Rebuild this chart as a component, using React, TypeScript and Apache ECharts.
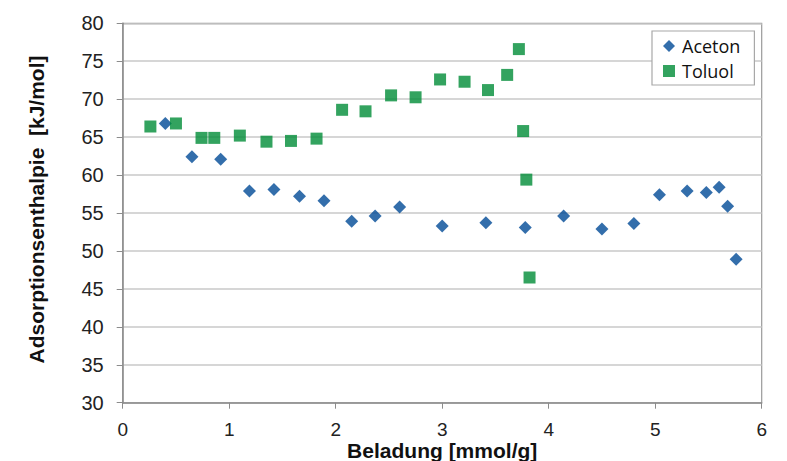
import React, { useEffect, useRef } from "react";
import * as echarts from "echarts";

const acetonX = [0.40, 0.65, 0.92, 1.19, 1.42, 1.66, 1.89, 2.15, 2.37, 2.60, 3.00, 3.41, 3.78, 4.14, 4.50, 4.80, 5.04, 5.30, 5.48, 5.60, 5.68, 5.76];
const acetonY = [66.8, 62.4, 62.1, 57.9, 58.1, 57.2, 56.6, 53.9, 54.6, 55.8, 53.3, 53.7, 53.1, 54.6, 52.9, 53.6, 57.4, 57.9, 57.7, 58.4, 55.9, 48.9];
const toluolX = [0.26, 0.50, 0.74, 0.86, 1.10, 1.35, 1.58, 1.82, 2.06, 2.28, 2.52, 2.75, 2.98, 3.21, 3.43, 3.61, 3.72, 3.76, 3.79, 3.82];
const toluolY = [66.4, 66.8, 64.9, 64.9, 65.2, 64.4, 64.5, 64.8, 68.6, 68.4, 70.5, 70.25, 72.6, 72.3, 71.2, 73.2, 76.6, 65.8, 59.4, 46.5];

const xTitle = "Beladung [mmol/g]";
const yTitle = "Adsorptionsenthalpie  [kJ/mol]";

export default function App() {
  const ref = useRef<HTMLDivElement>(null);
  useEffect(() => {
    document.body.style.margin = "0";
    const chart = echarts.init(ref.current!, null, { renderer: "svg" });
    const axisFont = { fontFamily: "Liberation Sans", fontSize: 20, color: "#222" };
    chart.setOption({
      animation: false,
      backgroundColor: "#fff",
      grid: {
        left: 122.7, right: 25.3, top: 23.3, bottom: 58.3,
        outerBoundsMode: "none", containLabel: false,
        show: true, borderColor: "#9a9a9a", borderWidth: 1.2,
      },
      legend: {
        orient: "vertical",
        left: 652, top: 31,
        padding: [6, 14, 5, 11],
        itemGap: 7,
        itemWidth: 12, itemHeight: 12,
        backgroundColor: "#fff",
        borderColor: "#a8a8a8", borderWidth: 1.2,
        textStyle: { fontFamily: "Open Sans", fontSize: 18, color: "#111", padding: [0, 0, 0, 2] },
        data: [
          { name: "Aceton", icon: "diamond" },
          { name: "Toluol", icon: "rect" },
        ],
      },
      xAxis: {
        type: "value", min: 0, max: 6, interval: 1,
        name: xTitle, nameLocation: "middle", nameGap: 39, nameMoveOverlap: false,
        nameTextStyle: { fontFamily: "Liberation Sans", fontSize: 21, fontWeight: "bold", color: "#111", lineHeight: 17 },
        axisLine: { show: true, lineStyle: { color: "#8c8c8c", width: 1.5 } },
        axisTick: { show: true, length: 6, lineStyle: { color: "#8c8c8c" } },
        axisLabel: { ...axisFont, fontSize: 19, margin: 19, lineHeight: 15 },
        splitLine: { show: false },
      },
      yAxis: {
        type: "value", min: 30, max: 80, interval: 5,
        name: yTitle, nameLocation: "middle", nameGap: 76, nameMoveOverlap: false,
        nameTextStyle: { fontFamily: "Liberation Sans", fontSize: 21, fontWeight: "bold", color: "#111", padding: [0, 0, 0, 7] },
        axisLine: { show: true, lineStyle: { color: "#8c8c8c", width: 1.5 } },
        axisTick: { show: true, length: 6, lineStyle: { color: "#8c8c8c" } },
        axisLabel: { ...axisFont, margin: 19 },
        splitLine: { show: true, lineStyle: { color: "#c8c8c8", width: 1.5 } },
      },
      series: [
        {
          name: "Aceton", type: "scatter", symbol: "diamond", symbolSize: 13,
          itemStyle: { color: "#004a96" },
          data: acetonX.map((x, i) => [x, acetonY[i]]),
        },
        {
          name: "Toluol", type: "scatter", symbol: "rect", symbolSize: 12,
          itemStyle: { color: "#008c37" },
          data: toluolX.map((x, i) => [x, toluolY[i]]),
        },
      ],
    });
    return () => chart.dispose();
  }, []);
  return <div ref={ref} style={{ width: 787, height: 461 }} />;
}
